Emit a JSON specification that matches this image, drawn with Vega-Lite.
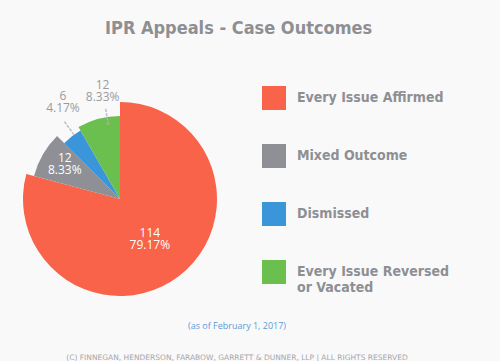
{
  "$schema": "https://vega.github.io/schema/vega-lite/v6.json",
  "background": "#f9f9fa",
  "padding": {"left": 0, "top": 19, "right": 50, "bottom": 0},
  "title": {
    "text": "IPR Appeals - Case Outcomes",
    "font": "DejaVu Sans Condensed, Roboto",
    "fontSize": 18,
    "fontWeight": "bold",
    "color": "#8e8f93",
    "anchor": "start",
    "dx": 105,
    "offset": 38
  },
  "config": {"view": {"stroke": null}},
  "vconcat": [
    {
      "width": 240,
      "height": 210,
      "title": {
        "text": "(as of February 1, 2017)",
        "subtitle": "(C) FINNEGAN, HENDERSON, FARABOW, GARRETT & DUNNER, LLP | ALL RIGHTS RESERVED",
        "orient": "bottom",
        "anchor": "middle",
        "frame": "group",
        "dx": 117,
        "offset": 2,
        "font": "Open Sans",
        "fontSize": 9,
        "fontWeight": "normal",
        "color": "#5b9bd5",
        "subtitleFont": "DejaVu Sans",
        "subtitleFontSize": 7.5,
        "subtitleColor": "#a5a6aa",
        "subtitlePadding": 23
      },
      "data": {
        "values": [
          {"outcome": "Every Issue Affirmed", "count": 114, "pct": "79.17%", "i": 1},
          {"outcome": "Mixed Outcome", "count": 12, "pct": "8.33%", "i": 2},
          {"outcome": "Dismissed", "count": 6, "pct": "4.17%", "i": 3},
          {"outcome": "Every Issue Reversed or Vacated", "count": 12, "pct": "8.33%", "i": 4}
        ]
      },
      "transform": [{"calculate": "datum.count + '\\n' + datum.pct", "as": "label"}],
      "encoding": {
        "theta": {"field": "count", "type": "quantitative", "stack": true},
        "order": {"field": "i", "type": "quantitative"}
      },
      "layer": [
        {
          "mark": {"type": "arc", "radius": 97},
          "encoding": {
            "color": {
              "field": "outcome",
              "type": "nominal",
              "scale": {
                "domain": ["Every Issue Affirmed", "Mixed Outcome", "Dismissed", "Every Issue Reversed or Vacated"],
                "range": ["#f8634a", "#8f9095", "#3a96d8", "#6bbf4e"]
              },
              "legend": {
                "title": null,
                "orient": "none",
                "legendX": 262,
                "legendY": -8,
                "symbolType": "square",
                "symbolSize": 576,
                "symbolStrokeWidth": 0,
                "symbolOpacity": 1,
                "labelFont": "DejaVu Sans Condensed, Roboto",
                "labelFontSize": 14,
                "labelFontWeight": "bold",
                "labelColor": "#8e8f93",
                "labelOffset": 11,
                "labelLimit": 300,
                "labelLineHeight": 18,
                "rowPadding": 34,
                "labelExpr": "datum.label === 'Every Issue Reversed or Vacated' ? ['Every Issue Reversed', 'or Vacated'] : datum.label"
              }
            },
            "opacity": {"condition": {"test": "datum.outcome === 'Every Issue Affirmed'", "value": 1}, "value": 0}
          }
        },
        {
          "mark": {"type": "arc", "radius": 89},
          "encoding": {
            "color": {"field": "outcome", "type": "nominal", "legend": null},
            "opacity": {"condition": {"test": "datum.outcome === 'Mixed Outcome'", "value": 1}, "value": 0}
          }
        },
        {
          "mark": {"type": "arc", "radius": 79},
          "encoding": {
            "color": {"field": "outcome", "type": "nominal", "legend": null},
            "opacity": {"condition": {"test": "datum.outcome === 'Dismissed'", "value": 1}, "value": 0}
          }
        },
        {
          "mark": {"type": "arc", "radius": 83},
          "encoding": {
            "color": {"field": "outcome", "type": "nominal", "legend": null},
            "opacity": {"condition": {"test": "datum.outcome === 'Every Issue Reversed or Vacated'", "value": 1}, "value": 0}
          }
        },
        {
          "mark": {"type": "text", "radius": 87, "thetaOffset": 0.03, "angle": 324, "text": "┊", "font": "DejaVu Sans", "fontSize": 15, "color": "#b4b5b9", "align": "center", "baseline": "middle"},
          "encoding": {
            "opacity": {"condition": {"test": "datum.outcome === 'Dismissed'", "value": 1}, "value": 0}
          }
        },
        {
          "mark": {"type": "text", "radius": 83, "thetaOffset": 0.105, "angle": 351, "text": "┊", "font": "DejaVu Sans", "fontSize": 15, "color": "#b4b5b9", "align": "center", "baseline": "middle"},
          "encoding": {
            "opacity": {"condition": {"test": "datum.outcome === 'Every Issue Reversed or Vacated'", "value": 1}, "value": 0}
          }
        },
        {
          "mark": {"type": "text", "radius": 45, "thetaOffset": -0.07, "font": "Open Sans", "fontSize": 12, "lineBreak": "\n", "color": "white", "align": "center", "baseline": "middle", "lineHeight": 12},
          "encoding": {
            "text": {"field": "label"},
            "opacity": {"condition": {"test": "datum.outcome === 'Every Issue Affirmed'", "value": 1}, "value": 0}
          }
        },
        {
          "mark": {"type": "text", "radius": 69, "thetaOffset": 0.12, "font": "Open Sans", "fontSize": 12, "lineBreak": "\n", "color": "white", "align": "center", "baseline": "middle", "lineHeight": 12},
          "encoding": {
            "text": {"field": "label"},
            "opacity": {"condition": {"test": "datum.outcome === 'Mixed Outcome'", "value": 1}, "value": 0}
          }
        },
        {
          "mark": {"type": "text", "radius": 118, "thetaOffset": 0.15, "font": "Open Sans", "fontSize": 12, "lineBreak": "\n", "color": "#9a9b9f", "align": "center", "baseline": "middle", "lineHeight": 12},
          "encoding": {
            "text": {"field": "label"},
            "opacity": {"condition": {"test": "datum.outcome === 'Dismissed'", "value": 1}, "value": 0}
          }
        },
        {
          "mark": {"type": "text", "radius": 115, "thetaOffset": 0.11, "font": "Open Sans", "fontSize": 12, "lineBreak": "\n", "color": "#9a9b9f", "align": "center", "baseline": "middle", "lineHeight": 12},
          "encoding": {
            "text": {"field": "label"},
            "opacity": {"condition": {"test": "datum.outcome === 'Every Issue Reversed or Vacated'", "value": 1}, "value": 0}
          }
        }
      ]
    }
  ]
}
